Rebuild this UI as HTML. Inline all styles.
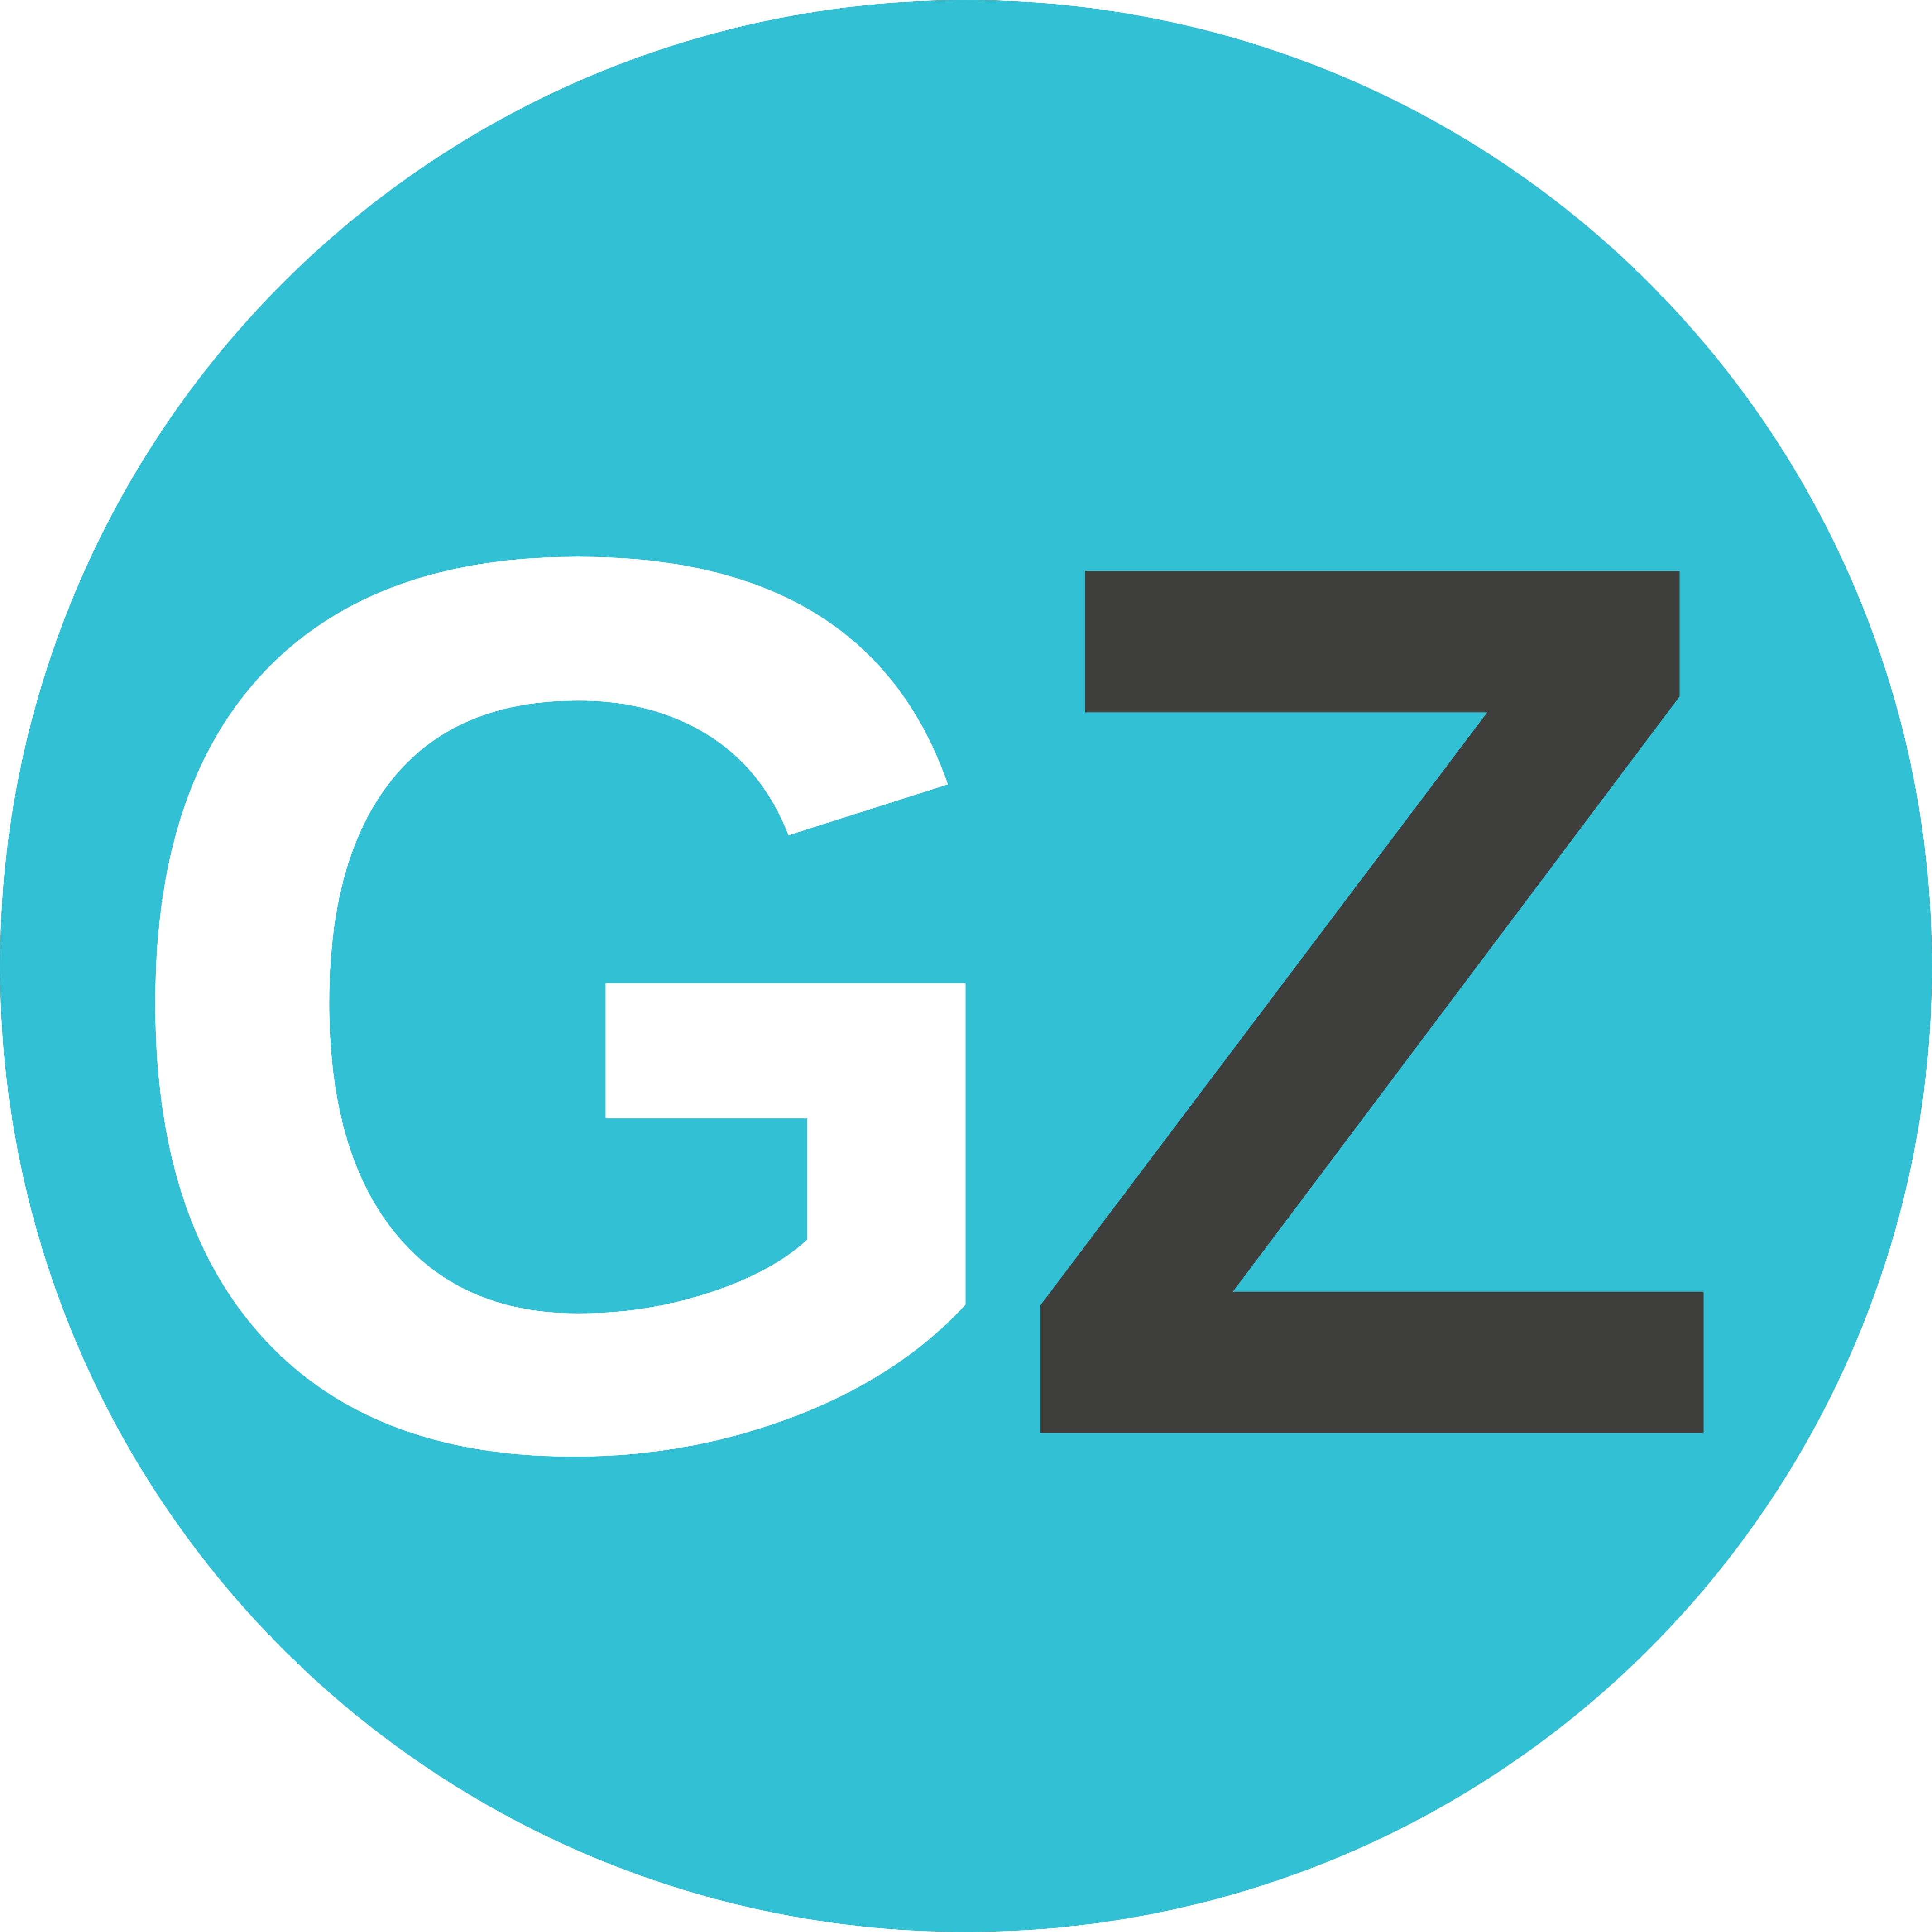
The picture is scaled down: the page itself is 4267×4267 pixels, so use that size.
<!DOCTYPE html>
<html><head><meta charset="utf-8"><style>
html,body{margin:0;padding:0;background:#fff;}
svg{display:block;}
</style></head><body>
<svg width="4267" height="4267" viewBox="0 0 4267 4267" xmlns="http://www.w3.org/2000/svg">
<circle cx="2133.5" cy="2133.5" r="2133.5" fill="#31c0d4"/>
<text x="234" y="3190" font-family="Liberation Sans, sans-serif" font-weight="bold" font-size="2808" fill="#ffffff" textLength="2063" lengthAdjust="spacingAndGlyphs">G</text>
<text x="2219" y="3165" font-family="Liberation Sans, sans-serif" font-weight="bold" font-size="2767" fill="#3e3e3c" textLength="1620" lengthAdjust="spacingAndGlyphs">Z</text>
</svg>
</body></html>
